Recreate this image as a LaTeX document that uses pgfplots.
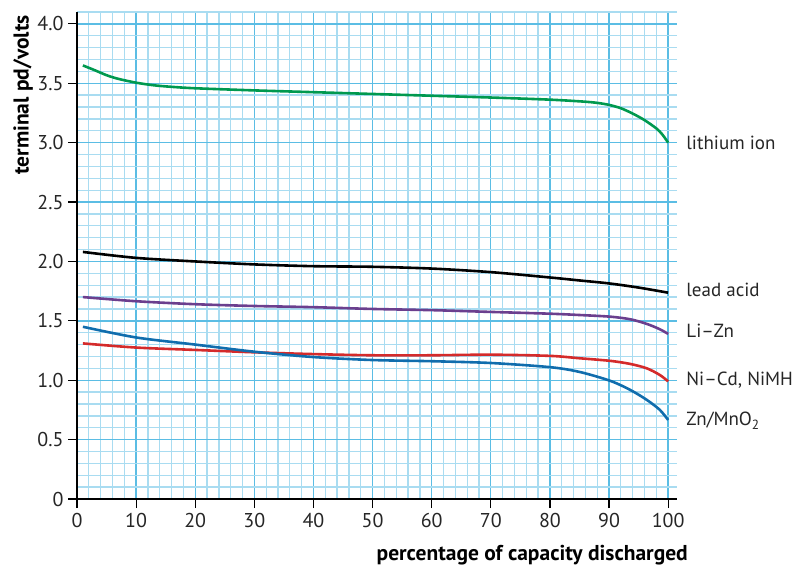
\documentclass[border=0pt]{standalone}
\usepackage{fontspec}
\setmainfont{PT Sans}
\usepackage{pgfplots}
\pgfplotsset{compat=1.18}
\definecolor{gmaj}{HTML}{5BBDE4}
\definecolor{gmin}{HTML}{A9DCF1}
\definecolor{cgreen}{HTML}{00994F}
\definecolor{cpurple}{HTML}{6B3F8E}
\definecolor{cred}{HTML}{D42B2B}
\definecolor{cblue}{HTML}{106DAD}
\begin{document}
\begin{tikzpicture}[x=1pt,y=1pt]
\useasboundingbox (-77,-72) rectangle (718,499);
\begin{axis}[
  at={(0,0)}, anchor=origin,
  scale only axis, width=600pt, height=487pt,
  xmin=0, xmax=101.5, ymin=0, ymax=4.1,
  axis lines*=left,
  axis line style={black, line width=1.6pt, -},
  xtick={0,10,...,100},
  ytick={0,0.5,1.0,1.5,2.0,2.5,3.0,3.5,4.0},
  yticklabels={0,0.5,1.0,1.5,2.0,2.5,3.0,3.5,4.0},
  minor xtick={0,2,...,100},
  minor ytick={0,0.1,...,4.05},
  grid=both,
  major grid style={gmaj, line width=1.4pt},
  minor grid style={gmin, line width=1.3pt},
  tick align=outside,
  tick style={black, line width=1.2pt},
  major tick length=9pt,
  minor tick length=0pt,
  /pgf/number format/assume math mode=true,
  ticklabel style={font=\fontsize{20}{24}\selectfont, text=black!85},
  xticklabel style={yshift=-2pt},
  yticklabel style={xshift=-1pt},
  xlabel={\textbf{percentage of capacity discharged}},
  xlabel style={font=\fontsize{21.5}{25}\selectfont, at={(rel axis cs:1.01833,-0.12526)}, anchor=base east, inner sep=0pt},
  ylabel={\textbf{terminal pd/volts}},
  ylabel style={font=\fontsize{21.5}{25}\selectfont, at={(rel axis cs:-0.10667,0.99384)}, anchor=north east, inner sep=0pt},
  clip=false,
  every axis plot/.append style={line width=2.6pt, smooth, no markers, tension=0.5},
]
% lithium ion
\addplot[cgreen] coordinates {(1,3.65) (3,3.61) (5,3.568) (7,3.537) (10,3.505) (13,3.483) (16,3.47) (20,3.458) (30,3.44) (40,3.425) (50,3.41) (60,3.395) (70,3.38) (80,3.362) (85.6,3.346) (88,3.335) (90,3.318) (92,3.29) (94,3.245) (96,3.19) (98,3.12) (99,3.07) (100,3.0)};
% lead acid
\addplot[black] coordinates {(1,2.08) (10,2.03) (20,2.00) (30,1.975) (40,1.96) (50,1.955) (60,1.94) (70,1.91) (80,1.865) (85,1.84) (90,1.815) (95,1.78) (100,1.737)};
% Li-Zn
\addplot[cpurple] coordinates {(1,1.70) (10,1.665) (20,1.64) (30,1.625) (40,1.615) (50,1.60) (60,1.59) (70,1.575) (80,1.56) (85,1.549) (90.2,1.535) (93.6,1.513) (96.4,1.474) (98.6,1.429) (100,1.39)};
% Ni-Cd
\addplot[cred] coordinates {(1,1.31) (10,1.275) (20,1.255) (30,1.235) (40,1.22) (50,1.21) (60,1.21) (70,1.215) (80,1.205) (85,1.185) (90.2,1.163) (93.6,1.137) (96.4,1.10) (98.6,1.044) (100,0.99)};
% Zn/MnO2
\addplot[cblue] coordinates {(1,1.45) (10,1.36) (20,1.30) (30,1.24) (40,1.195) (50,1.17) (60,1.16) (70,1.145) (80,1.11) (85,1.07) (90.2,0.995) (93.6,0.918) (96.4,0.834) (98.6,0.75) (100,0.665)};
\begin{scope}[every node/.style={font=\fontsize{19}{22}\selectfont, text=black!85, anchor=west}]
\node at (axis cs:102.5,3.0) {lithium ion};
\node at (axis cs:102.5,1.76) {lead acid};
\node at (axis cs:102.5,1.42) {Li–Zn};
\node at (axis cs:102.5,1.0) {Ni–Cd, NiMH};
\node at (axis cs:102.5,0.66) {Zn/MnO\textsubscript{2}};
\end{scope}
\end{axis}
\end{tikzpicture}
\end{document}
